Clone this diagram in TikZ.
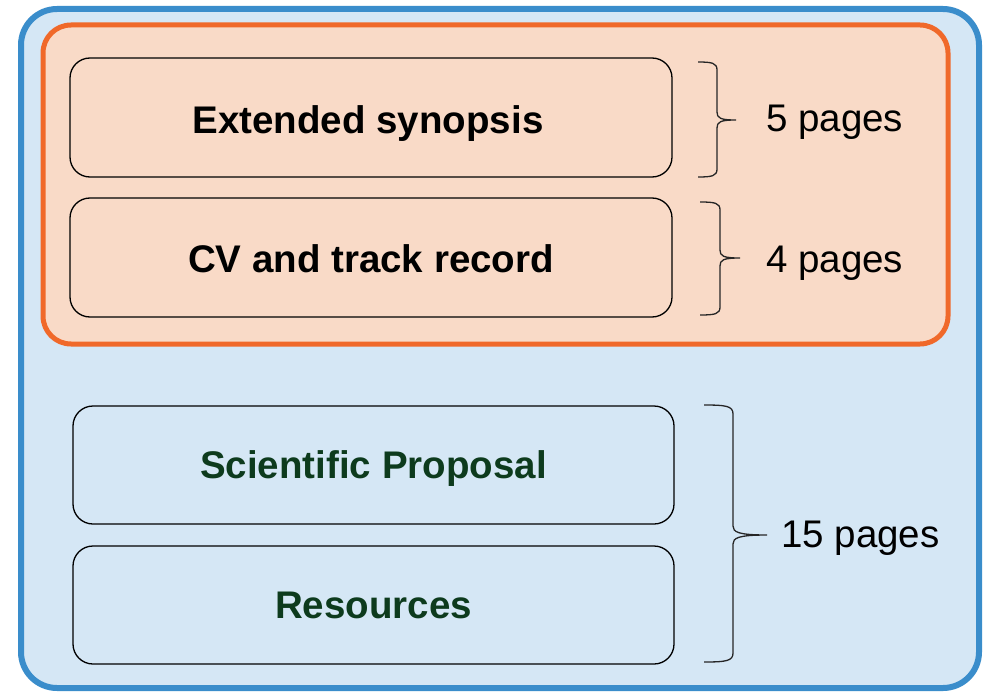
\documentclass[tikz,border=0pt]{standalone}
\usepackage{fontspec}
\setmainfont{Liberation Sans}
\definecolor{outerfill}{HTML}{D5E7F5}
\definecolor{outerline}{HTML}{3A8DCB}
\definecolor{innerfill}{HTML}{F9DAC7}
\definecolor{innerline}{HTML}{F0692A}
\definecolor{darkgreen}{HTML}{0D3B1D}
\tikzset{
  partbox/.style={draw=black, line width=1.3pt, rounded corners=20pt},
  partlabel/.style={anchor=base, inner sep=0pt, font=\bfseries\fontsize{38.5}{44}\selectfont},
  bracepath/.style={draw=black!85, line width=1.3pt},
  pagelabel/.style={anchor=base west, inner sep=0pt, font=\fontsize{38.5}{44}\selectfont},
}
\begin{document}
\begin{tikzpicture}[x=1pt,y=-1pt]
\useasboundingbox (0,0) rectangle (984,695);
% outer container
\draw[outerline, fill=outerfill, line width=6pt, rounded corners=36pt] (21,9) rectangle (979,688);
% highlighted group
\draw[innerline, fill=innerfill, line width=5pt, rounded corners=28pt] (43,25) rectangle (948,344);
% sections
\node[partbox, minimum width=602pt, minimum height=119pt] (syn) at (371,117.5) {};
\node[partlabel] (synt) at (368,134) {Extended synopsis};
\node[partbox, minimum width=602pt, minimum height=119pt] (cv) at (371,257.5) {};
\node[partlabel] (cvt) at (371,272) {CV and track record};
\node[partbox, minimum width=601pt, minimum height=118pt] (sci) at (373.5,465) {};
\node[partlabel, text=darkgreen] (scit) at (373.5,478) {Scientific Proposal};
\node[partbox, minimum width=601pt, minimum height=118pt] (res) at (373.5,605) {};
\node[partlabel, text=darkgreen] (rest) at (373.5,618) {Resources};
% braces
\coordinate (b1) at (736,120);
\draw[bracepath] (698,62) .. controls (712,62) and (717,63) .. (717,70) -- (717,112)
  .. controls (717,118) and (720,120) .. (b1)
  (b1) .. controls (720,120) and (717,122) .. (717,128) -- (717,169)
  .. controls (717,176) and (712,177) .. (698,177);
\node[pagelabel] (p1) at (766,131.5) {5 pages};
\coordinate (b2) at (740,258);
\draw[bracepath] (700,202) .. controls (715,202) and (720,203) .. (720,210) -- (720,250)
  .. controls (720,256) and (723,258) .. (b2)
  (b2) .. controls (723,258) and (720,260) .. (720,266) -- (720,307)
  .. controls (720,314) and (715,315) .. (700,315);
\node[pagelabel] (p2) at (766,272) {4 pages};
\coordinate (b3) at (767,535);
\draw[bracepath] (704,405) .. controls (726,405) and (733,406) .. (733,414) -- (733,526)
  .. controls (733,532) and (738,535) .. (b3)
  (b3) .. controls (738,535) and (733,538) .. (733,544) -- (733,653)
  .. controls (733,661) and (726,662) .. (704,662);
\node[pagelabel] (p3) at (781,547.5) {15 pages};
\end{tikzpicture}
\end{document}
